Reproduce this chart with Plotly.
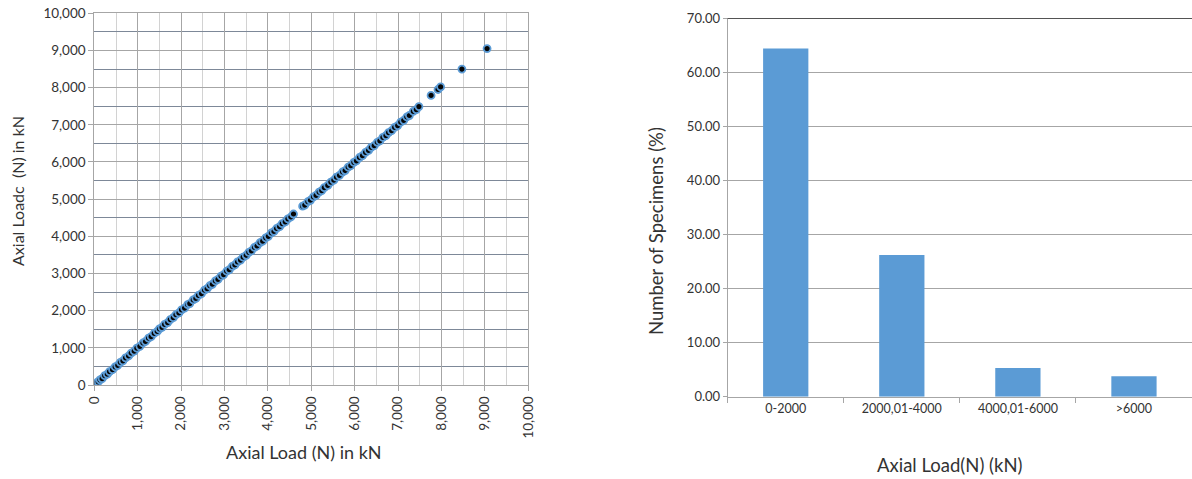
import plotly.graph_objects as go

# Scatter: measured axial load vs calculated axial load (kN)
axial_load = [
    50, 90, 130, 180, 240, 300, 350, 420, 480, 540, 600, 660, 720, 790, 850,
    920, 980, 1050, 1120, 1180, 1250, 1310, 1380, 1450, 1500, 1560, 1620, 1690,
    1750, 1820, 1880, 1950, 2010, 2080, 2150, 2200, 2280, 2340, 2400, 2470, 2540,
    2600, 2660, 2720, 2790, 2850, 2920, 2980, 3050, 3110, 3180, 3240, 3300, 3370,
    3430, 3500, 3560, 3620, 3690, 3750, 3820, 3880, 3950, 4010, 4080, 4140, 4200,
    4270, 4330, 4400, 4460, 4530, 4590, 4800, 4850, 4920, 4980, 5050, 5110, 5180,
    5240, 5300, 5380, 5450, 5520, 5580, 5650, 5720, 5780, 5850, 5910, 5980, 6040,
    6110, 6180, 6250, 6320, 6380, 6450, 6520, 6580, 6650, 6720, 6780, 6850, 6920,
    6990, 7060, 7130, 7200, 7260, 7350, 7420, 7480, 7760, 7920, 7980, 8470, 9050,
]
axial_load_calc = [
    60, 85, 140, 170, 250, 290, 360, 410, 490, 530, 610, 650, 730, 780, 860,
    910, 990, 1040, 1130, 1170, 1260, 1300, 1390, 1440, 1510, 1550, 1630, 1680,
    1760, 1810, 1890, 1940, 2020, 2070, 2160, 2190, 2290, 2330, 2410, 2460, 2550,
    2590, 2670, 2710, 2800, 2840, 2930, 2970, 3060, 3100, 3190, 3230, 3310, 3360,
    3440, 3490, 3570, 3610, 3700, 3740, 3830, 3870, 3960, 4000, 4090, 4130, 4210,
    4260, 4340, 4390, 4470, 4520, 4600, 4810, 4840, 4930, 4970, 5060, 5100, 5190,
    5230, 5310, 5370, 5460, 5510, 5590, 5640, 5730, 5770, 5860, 5900, 5990, 6030,
    6120, 6170, 6260, 6310, 6390, 6440, 6530, 6570, 6660, 6710, 6790, 6840, 6930,
    6980, 7070, 7120, 7210, 7250, 7360, 7410, 7490, 7790, 7950, 8020, 8500, 9050,
]

# Histogram of specimens by axial load class
load_classes = ["0-2000", "2000,01-4000", "4000,01-6000", ">6000"]
specimen_pct = [64.4, 26.2, 5.3, 3.8]

FONT = "Lato, 'Open Sans', sans-serif"
TXT = "#333333"
GRID = "#a6a6a6"

fig = go.Figure()

fig.add_trace(go.Scatter(
    x=axial_load, y=axial_load_calc, mode="markers",
    marker=dict(size=7, color="#050505", line=dict(color="#5b9bd5", width=1.8)),
    xaxis="x", yaxis="y", showlegend=False,
))

fig.add_trace(go.Bar(
    x=load_classes, y=specimen_pct, width=0.39,
    marker=dict(color="#5b9bd5", line=dict(width=0)),
    xaxis="x2", yaxis="y2", showlegend=False,
))

fig.update_layout(
    width=1192, height=479,
    margin=dict(l=0, r=0, t=0, b=0, autoexpand=False),
    paper_bgcolor="white", plot_bgcolor="white",
    font=dict(family=FONT, color=TXT, size=12),
    xaxis=dict(
        domain=[94.3 / 1192, 528.3 / 1192], anchor="y", automargin=False,
        range=[0, 10000], dtick=1000, tick0=0, tickformat=",d",
        tickangle=-90, ticks="outside", ticklen=5, tickcolor=GRID,
        showline=True, linecolor=GRID, linewidth=1, mirror=True,
        showgrid=True, gridcolor=GRID, gridwidth=1,
        minor=dict(dtick=500, tick0=0, showgrid=True, gridcolor="#d2d2d2", ticks=""),
        zeroline=False, tickfont=dict(size=13.5, color=TXT),
    ),
    yaxis=dict(
        domain=[1 - 385 / 479, 1 - 13.3 / 479], anchor="x", automargin=False,
        range=[0, 10000], dtick=1000, tick0=0, tickformat=",d",
        ticks="outside", ticklen=5, tickcolor=GRID,
        showline=True, linecolor=GRID, linewidth=1, mirror=True,
        showgrid=True, gridcolor=GRID, gridwidth=1,
        minor=dict(dtick=500, tick0=0, showgrid=True, gridcolor="#7d8898", ticks=""),
        zeroline=False, tickfont=dict(size=13.5, color=TXT),
    ),
    xaxis2=dict(
        domain=[727.7 / 1192, 1.0], anchor="y2", automargin=False,
        type="category", range=[-0.5, 3.5],
        ticks="outside", ticklen=5, tickcolor=GRID, tickson="boundaries",
        showline=True, linecolor=GRID, linewidth=1,
        showgrid=False, tickfont=dict(size=12.5, color=TXT),
    ),
    yaxis2=dict(
        domain=[1 - 396.7 / 479, 1 - 18.3 / 479], anchor="x2", automargin=False,
        range=[0, 70], dtick=10, tickformat=".2f",
        ticks="outside", ticklen=4, tickcolor=GRID,
        showline=True, linecolor=GRID, linewidth=1,
        showgrid=True, gridcolor=GRID, gridwidth=1,
        zeroline=False, tickfont=dict(size=13, color=TXT),
    ),
    shapes=[
        dict(type="line", xref="x2 domain", yref="y2", x0=0, x1=1, y0=70, y1=70,
             line=dict(color="#1a1a1a", width=1.5)),
    ],
    annotations=[
        dict(text="Axial Loadc\u00a0\u00a0(N) in kN", textangle=-90,
             xref="paper", yref="paper", x=18 / 1192, y=1 - 191 / 479,
             xanchor="center", yanchor="middle", showarrow=False,
             font=dict(size=16, color=TXT)),
        dict(text="Axial Load (N) in kN",
             xref="paper", yref="paper", x=304 / 1192, y=1 - 452 / 479,
             xanchor="center", yanchor="middle", showarrow=False,
             font=dict(size=18, color=TXT)),
        dict(text="Number of Specimens (%)", textangle=-90,
             xref="paper", yref="paper", x=656 / 1192, y=1 - 231 / 479,
             xanchor="center", yanchor="middle", showarrow=False,
             font=dict(size=18.5, color=TXT)),
        dict(text="Axial Load(N) (kN)",
             xref="paper", yref="paper", x=950 / 1192, y=1 - 465 / 479,
             xanchor="center", yanchor="middle", showarrow=False,
             font=dict(size=18.5, color=TXT)),
    ],
)

fig.write_html("out.html")
